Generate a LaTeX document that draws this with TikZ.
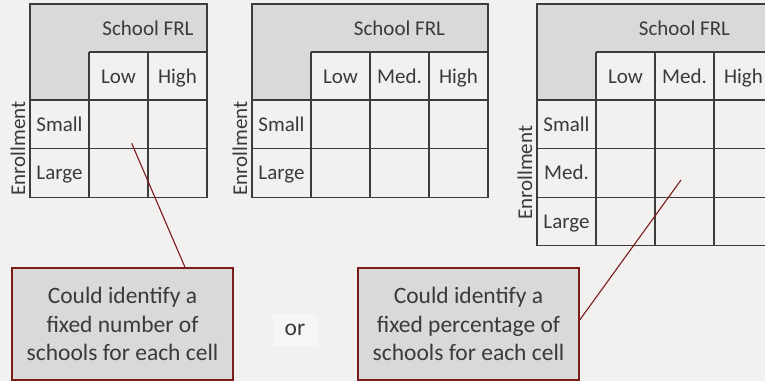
\documentclass[tikz,border=0pt]{standalone}
\usepackage{fontspec}
\setmainfont{Carlito}
\definecolor{bg}{HTML}{F3F0F0}
\definecolor{hdr}{HTML}{D9D9D9}
\definecolor{gridc}{HTML}{3C3C3C}
\definecolor{txt}{HTML}{3A3A3A}
\definecolor{dred}{HTML}{7B1C1C}
\definecolor{orbg}{HTML}{F6F6F6}
\tikzset{
  gridline/.style={draw=gridc, line width=1.1pt},
  tabtext/.style={text=txt, font=\fontsize{21}{25}\selectfont, inner sep=0pt},
  notebox/.style={draw=dred, line width=1.4pt, fill=hdr, text=txt,
    minimum width=221pt, minimum height=112pt, align=center, inner sep=0pt,
    font=\fontsize{23.5}{28.8}\selectfont},
  conn/.style={draw=dred, line width=1.1pt},
  orbox/.style={fill=orbg, text=txt, minimum width=44pt, minimum height=32pt,
    inner sep=0pt, font=\fontsize{23.5}{28}\selectfont}
}
\newcommand\frltab[6]{%
  \begin{scope}[xshift=#2pt]
    \pgfmathsetmacro\xr{59*(#3+1)}
    \pgfmathsetmacro\yb{100+48.6*#4}
    \fill[hdr] (0,4) rectangle (\xr,52);
    \fill[hdr] (0,52) rectangle (59,100);
    \draw[gridline] (0,4) rectangle (\xr,\yb);
    \draw[gridline] (59,52) -- (\xr,52);
    \draw[gridline] (0,100) -- (\xr,100);
    \foreach \k in {1,...,#3} \draw[gridline] (59*\k,52) -- (59*\k,\yb);
    \foreach \r in {1,...,#4} \draw[gridline] (0,100+48.6*\r) -- (\xr,100+48.6*\r);
    \node[tabtext, anchor=base] (#1-frl) at ({59*(#3+2)/2},35) {School FRL};
    \foreach \c [count=\i] in {#5} \node[tabtext, anchor=base] (#1-c\i) at ({59*\i+29.5},83) {\c};
    \foreach \rl [count=\i] in {#6} \node[tabtext, anchor=base] (#1-r\i) at (29.5,{100+48.6*(\i-0.5)+7}) {\rl};
    \node[tabtext, rotate=90] (#1-enr) at (-12,{100+48.6*#4/2}) {Enrollment};
  \end{scope}}
\begin{document}
\begin{tikzpicture}[x=1pt,y=-1pt]
  \clip (0,0) rectangle (765,381);
  \fill[bg] (0,0) rectangle (765,381);
  \frltab{ta}{30}{2}{2}{Low,High}{Small,Large}
  \frltab{tb}{252}{3}{2}{Low,Med.,High}{Small,Large}
  \frltab{tc}{537}{3}{3}{Low,Med.,High}{Small,Med.,Large}
  \node[notebox] (box1) at (122.5,324) {Could identify a\\fixed number of\\schools for each cell};
  \node[notebox] (box2) at (468.5,324) {Could identify a\\fixed percentage of\\schools for each cell};
  \node[orbox] (or) at (295,330) {or};
  \coordinate (s1) at (131.7,143.3);
  \coordinate (s2) at (681,180);
  \draw[conn] (s1) -- ([xshift=62.5pt]box1.north);
  \draw[conn] (s2) -- ([yshift=4pt]box2.east);
\end{tikzpicture}
\end{document}
